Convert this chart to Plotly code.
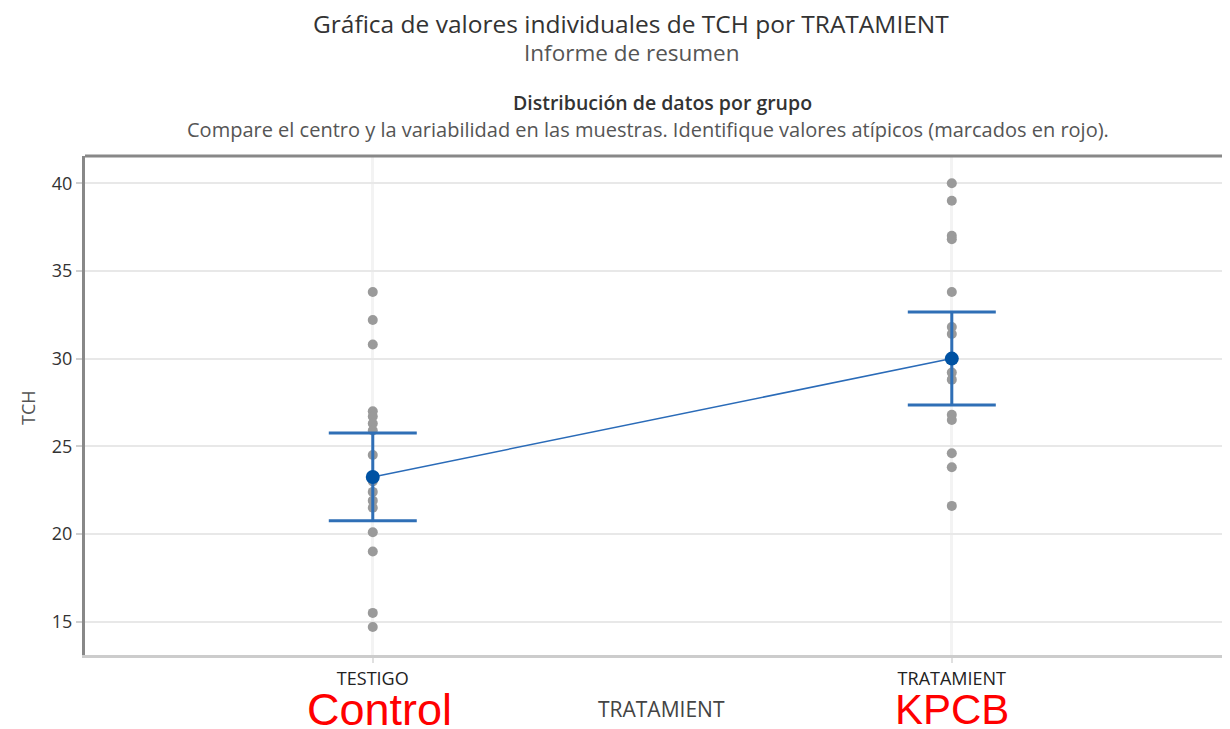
import plotly.graph_objects as go

categories = ["TESTIGO", "TRATAMIENT"]
control_values = [33.8, 32.2, 30.8, 27.0, 26.7, 26.3, 25.9, 24.5, 23.0, 22.4, 21.9, 21.5, 20.1, 19.0, 15.5, 14.7]
treatment_values = [40.0, 39.0, 37.0, 36.8, 33.8, 31.8, 31.4, 30.0, 29.2, 28.8, 26.8, 26.5, 24.6, 23.8, 21.6]
group_means = [23.25, 30.0]
ci_lower = [20.75, 27.35]
ci_upper = [25.75, 32.65]
y_ticks = [15, 20, 25, 30, 35, 40]
red_labels = ["Control", "KPCB"]

FONT = "Open Sans"
OFF = 8  # page body margin of the exported HTML
W, H = 1230 - OFF, 729 - OFF
L, R, T, B = 85 - OFF, 2, 156 - OFF, 74
PW, PH = W - L - R, H - T - B


def px_x(x):
    return (x - OFF - L) / PW


def px_y(y):
    return 1 - (y - OFF - T) / PH


fig = go.Figure()

fig.add_trace(go.Scatter(
    x=[categories[0]] * len(control_values) + [categories[1]] * len(treatment_values),
    y=control_values + treatment_values,
    mode="markers",
    marker=dict(color="#9a9a9a", size=10),
    showlegend=False, hoverinfo="y",
))

fig.add_trace(go.Scatter(
    x=categories, y=group_means,
    mode="lines+markers",
    line=dict(color="#2a6bb8", width=1.5),
    marker=dict(color="#0052a3", size=14),
    error_y=dict(
        type="data", symmetric=False,
        array=[u - m for u, m in zip(ci_upper, group_means)],
        arrayminus=[m - l for l, m in zip(ci_lower, group_means)],
        color="#2f6fb6", thickness=3, width=44,
    ),
    showlegend=False,
))

fig.add_shape(type="line", xref="paper", yref="paper", x0=0, x1=1, y0=1, y1=1,
              line=dict(color="#888888", width=3))

ann_list = [
    dict(text="Gráfica de valores individuales de TCH por TRATAMIENT", x=px_x(631), y=px_y(23),
         font=dict(size=24.5, color="#333333")),
    dict(text="Informe de resumen", x=px_x(632), y=px_y(52), font=dict(size=22.5, color="#555555")),
    dict(text="Distribución de datos por grupo", x=px_x(662), y=px_y(102),
         font=dict(size=19.5, color="#333333", weight=600)),
    dict(text="Compare el centro y la variabilidad en las muestras. Identifique valores atípicos (marcados en rojo).",
         x=px_x(648), y=px_y(129), font=dict(size=20, color="#555555")),
    dict(text="TRATAMIENT", x=px_x(661), y=px_y(709), font=dict(size=21, color="#444444")),
    dict(text="TCH", x=px_x(28), y=px_y(408), textangle=-90, font=dict(size=18, color="#555555")),
]
for a in ann_list:
    a.update(xref="paper", yref="paper", showarrow=False, xanchor="center", yanchor="middle")

red_sizes = [45, 42]
red_shifts = [7, 0]
for cat, lab, size, shift in zip(categories, red_labels, red_sizes, red_shifts):
    ann_list.append(dict(text=lab, x=cat, xref="x", yref="paper", y=px_y(709),
                         xshift=shift, showarrow=False, xanchor="center", yanchor="middle",
                         font=dict(family="Liberation Sans, Arial", size=size, color="#ff0000")))

fig.update_layout(
    width=W, height=H,
    margin=dict(l=L, r=R, t=T, b=B, autoexpand=False),
    paper_bgcolor="white", plot_bgcolor="white",
    font=dict(family=FONT, color="#333333"),
    annotations=ann_list,
    xaxis=dict(
        type="category", range=[-0.497, 1.477], automargin=False,
        showgrid=True, gridcolor="#f3f3f3", gridwidth=3,
        showline=True, linecolor="#cccccc", linewidth=3,
        ticks="outside", ticklen=5, tickcolor="#e0e0e0", tickwidth=2,
        tickfont=dict(size=18, color="#222222"),
        zeroline=False,
    ),
    yaxis=dict(
        range=[13.1, 41.55], tickvals=y_ticks, automargin=False,
        showgrid=True, gridcolor="#e8e8e8", gridwidth=2,
        showline=True, linecolor="#888888", linewidth=3,
        ticks="outside", ticklen=6, tickcolor="#d0d0d0", tickwidth=2,
        tickfont=dict(size=18, color="#333333"),
        zeroline=False,
    ),
)

fig.write_html("out.html")
